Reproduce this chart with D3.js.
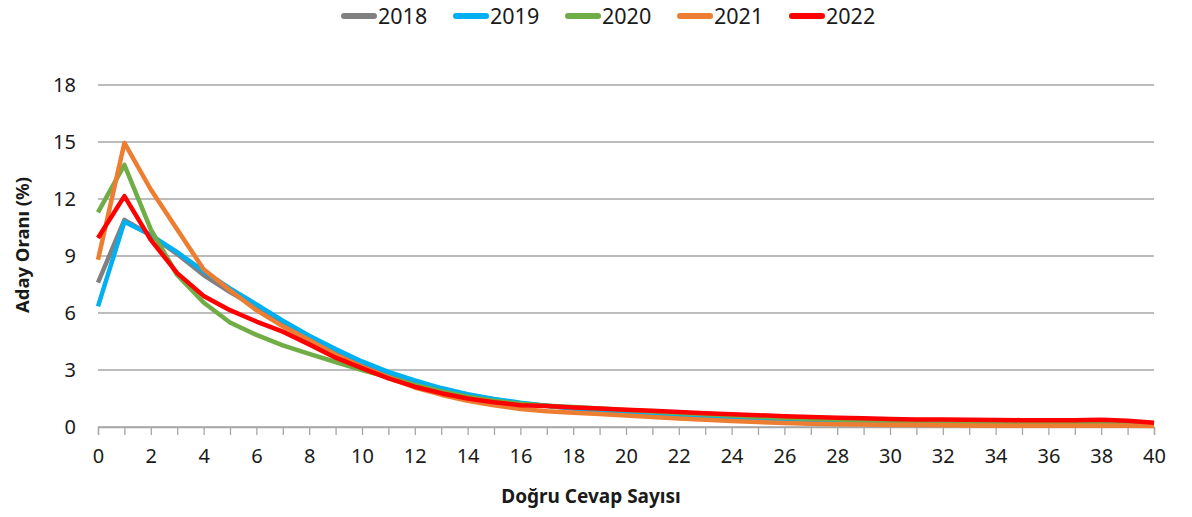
<!DOCTYPE html>
<html>
<head>
<meta charset="utf-8">
<script src="https://cdn.jsdelivr.net/npm/d3@7"></script>
<style>
  body { margin: 0; background: #fff; }
  svg { display: block; font-family: "Noto Sans", "Open Sans", sans-serif; }
</style>
</head>
<body>
<div id="chart"></div>
<script>
// Data
var dogruCevap = d3.range(0, 41);
var years = ["2018", "2019", "2020", "2021", "2022"];
var colours = ["#808080", "#00b0f0", "#70ad47", "#ed7d31", "#ff0000"];
var yTicks = [0, 3, 6, 9, 12, 15, 18];

var s2018 = [7.6, 10.9, 10.1, 9.1, 8.0, 7.1, 6.3, 5.45, 4.65, 3.95, 3.35, 2.85, 2.4, 2.0, 1.7, 1.45, 1.25, 1.1, 0.97, 0.86,
  0.77, 0.69, 0.62, 0.56, 0.5, 0.45, 0.41, 0.37, 0.34, 0.31, 0.28, 0.26, 0.24, 0.22, 0.21, 0.2, 0.19, 0.18, 0.18, 0.17, 0.12];
var s2019 = [6.35, 10.8, 10.1, 9.2, 8.2, 7.3, 6.45, 5.6, 4.8, 4.1, 3.45, 2.9, 2.45, 2.05, 1.73, 1.48, 1.28, 1.12, 0.99, 0.88,
  0.78, 0.7, 0.62, 0.55, 0.49, 0.44, 0.39, 0.35, 0.31, 0.28, 0.25, 0.23, 0.21, 0.2, 0.19, 0.18, 0.17, 0.17, 0.16, 0.15, 0.1];
var s2020 = [11.3, 13.8, 10.4, 8.0, 6.55, 5.5, 4.85, 4.3, 3.85, 3.42, 3.0, 2.62, 2.22, 1.88, 1.6, 1.38, 1.22, 1.12, 1.05, 0.98,
  0.9, 0.82, 0.74, 0.67, 0.6, 0.54, 0.49, 0.44, 0.4, 0.36, 0.33, 0.3, 0.28, 0.26, 0.25, 0.24, 0.23, 0.22, 0.22, 0.21, 0.15];
var s2021 = [8.8, 14.95, 12.5, 10.4, 8.3, 7.2, 6.15, 5.3, 4.58, 3.8, 3.17, 2.6, 2.08, 1.7, 1.38, 1.14, 0.95, 0.83, 0.75, 0.68,
  0.6, 0.52, 0.45, 0.38, 0.32, 0.26, 0.21, 0.17, 0.15, 0.13, 0.11, 0.1, 0.09, 0.08, 0.07, 0.06, 0.06, 0.06, 0.06, 0.06, 0.05];
var s2022 = [9.95, 12.15, 9.85, 8.1, 6.9, 6.15, 5.55, 5.02, 4.35, 3.65, 3.1, 2.56, 2.12, 1.78, 1.5, 1.3, 1.15, 1.1, 1.03, 0.97,
  0.91, 0.85, 0.79, 0.73, 0.67, 0.62, 0.57, 0.53, 0.49, 0.46, 0.42, 0.4, 0.39, 0.38, 0.37, 0.36, 0.36, 0.36, 0.38, 0.33, 0.22];

var seriesList = [s2018, s2019, s2020, s2021, s2022];

var width = 1192, height = 517;
var margin = { left: 98, right: 38, top: 85, bottom: 90 };

var svg = d3.select('#chart').append('svg')
  .attr('width', width)
  .attr('height', height);

var x = d3.scaleLinear().domain([0, 40]).range([margin.left, width - margin.right]);
var y = d3.scaleLinear().domain([0, 18]).range([height - margin.bottom, margin.top]);

// Horizontal grid lines
svg.append('g').selectAll('line')
  .data(yTicks)
  .enter().append('line')
    .attr('x1', x(0))
    .attr('x2', x(40))
    .attr('y1', function(d) { return y(d); })
    .attr('y2', function(d) { return y(d); })
    .attr('stroke', '#a6a6a6')
    .attr('stroke-width', 1.3);

// Y axis labels (no axis line)
var yAxis = d3.axisLeft(y).tickValues(yTicks).tickSize(0).tickPadding(22);
svg.append('g')
  .attr('transform', 'translate(' + x(0) + ',0)')
  .call(yAxis)
  .call(function(g) { g.select('.domain').remove(); })
  .selectAll('text')
    .attr('font-size', 20)
    .attr('font-family', '"Noto Sans", sans-serif')
    .attr('fill', '#1a1a1a');

// X axis with a tick on every value, labels every 2
var xAxis = d3.axisBottom(x).tickValues(dogruCevap).tickSize(8).tickPadding(14)
  .tickFormat(function(d) { return d % 2 === 0 ? d : ''; });
var gx = svg.append('g')
  .attr('transform', 'translate(0,' + y(0) + ')')
  .call(xAxis);
gx.select('.domain').attr('stroke', '#a6a6a6').attr('stroke-width', 1.3);
gx.selectAll('.tick line').attr('stroke', '#a6a6a6').attr('stroke-width', 1.3);
gx.selectAll('text')
  .attr('font-size', 20)
  .attr('font-family', '"Noto Sans", sans-serif')
  .attr('fill', '#1a1a1a');

// Lines
var line = d3.line()
  .x(function(d, i) { return x(dogruCevap[i]); })
  .y(function(d) { return y(d); });

svg.append('g').selectAll('path')
  .data(seriesList)
  .enter().append('path')
    .attr('d', line)
    .attr('fill', 'none')
    .attr('stroke', function(d, i) { return colours[i]; })
    .attr('stroke-width', 4.5)
    .attr('stroke-linejoin', 'round');

// Legend
var legend = svg.append('g').selectAll('g')
  .data(years)
  .enter().append('g')
    .attr('transform', function(d, i) { return 'translate(' + (344 + i * 112) + ',16)'; });

legend.append('line')
  .attr('x1', 0).attr('x2', 30)
  .attr('stroke', function(d, i) { return colours[i]; })
  .attr('stroke-width', 6)
  .attr('stroke-linecap', 'round');

legend.append('text')
  .attr('x', 34)
  .attr('dy', '0.36em')
  .attr('font-size', 21.5)
  .attr('fill', '#1a1a1a')
  .text(function(d) { return d; });

// Axis titles
svg.append('text')
  .attr('x', 591)
  .attr('y', 503)
  .attr('text-anchor', 'middle')
  .attr('font-weight', 'bold')
  .attr('font-size', 19)
  .attr('fill', '#1a1a1a')
  .text('Doğru Cevap Sayısı');

svg.append('text')
  .attr('transform', 'translate(29,245) rotate(-90)')
  .attr('text-anchor', 'middle')
  .attr('font-weight', 'bold')
  .attr('font-size', 18.5)
  .attr('fill', '#1a1a1a')
  .text('Aday Oranı (%)');
</script>
</body>
</html>
